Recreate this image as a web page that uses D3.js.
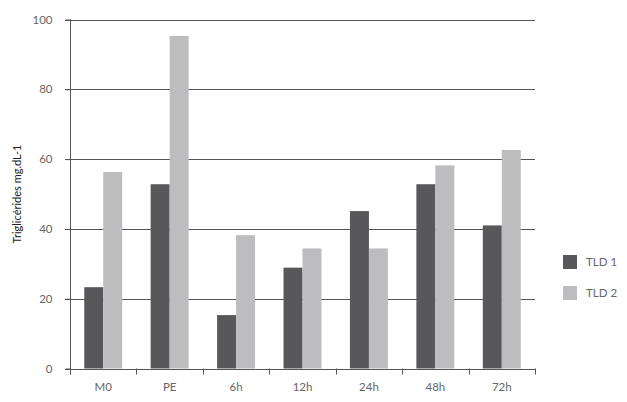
<!DOCTYPE html>
<html><head><meta charset="utf-8">
<script src="https://cdn.jsdelivr.net/npm/d3@7"></script>
<style>body{margin:0;background:#fff}svg{display:block;font-family:Lato,"Open Sans",sans-serif}</style>
</head><body>
<svg id="c" width="627" height="402"></svg>
<script>
const categories = ["M0","PE","6h","12h","24h","48h","72h"];
const seriesNames = ["TLD 1","TLD 2"];
const tld1 = [23.3, 52.8, 15.3, 28.9, 45.1, 52.8, 41.0];
const tld2 = [56.3, 95.3, 38.2, 34.4, 34.4, 58.2, 62.6];
const yTicks = [0,20,40,60,80,100];
const colors = ["#58585a","#bdbdbf"];

const FONT = "Lato, 'Open Sans', sans-serif";
const svg = d3.select("#c");
const L=70, R=535, T=19.5, B=368.5;
const y = d3.scaleLinear().domain([0,100]).range([B,T]);
const x0 = d3.scaleBand().domain(categories).range([L,R]).padding(0);
const x1 = d3.scaleBand().domain(seriesNames).range([0,x0.bandwidth()]).paddingInner(0).paddingOuter(0.75);
const data = categories.map((c,i)=>({c, v:[tld1[i],tld2[i]]}));

// gridlines
svg.append("g").selectAll("line").data(yTicks.filter(d=>d>0)).join("line")
  .attr("x1",L-5).attr("x2",R).attr("y1",d=>Math.round(y(d))+0.5).attr("y2",d=>Math.round(y(d))+0.5)
  .attr("stroke","#555").attr("stroke-width",1);

// bars
const g = svg.append("g").selectAll("g").data(data).join("g").attr("transform",d=>`translate(${x0(d.c)},0)`);
g.selectAll("rect").data(d=>d.v.map((v,j)=>({s:seriesNames[j],v,j}))).join("rect")
  .attr("x",d=>x1(d.s)).attr("width",x1.bandwidth())
  .attr("y",d=>y(d.v)).attr("height",d=>B-y(d.v)).attr("fill",d=>colors[d.j]);

// y axis
const ya = svg.append("g").attr("transform",`translate(${L+0.5},0)`)
  .call(d3.axisLeft(y).tickValues(yTicks).tickSize(5).tickPadding(13));
ya.select(".domain").attr("stroke","#555").attr("d",`M0,${T}V${B+6}`);
ya.selectAll(".tick line").attr("stroke","#555");
ya.selectAll(".tick text").attr("fill","#666").style("font-size","11.5px").style("font-family",FONT);

// x axis
const xa = svg.append("g").attr("transform",`translate(0,${Math.round(B)+0.5})`)
  .call(d3.axisBottom(x0).tickSize(0).tickPadding(13));
xa.select(".domain").attr("stroke","#555").attr("d",`M${L-5},0H${R}`);
xa.selectAll(".tick text").attr("fill","#666").style("font-size","11.5px").style("font-family",FONT);
svg.append("g").selectAll("line").data(categories.concat(["_end"])).join("line")
  .attr("x1",(d,i)=>Math.round(i<categories.length?x0(d):R)+0.5)
  .attr("x2",(d,i)=>Math.round(i<categories.length?x0(d):R)+0.5)
  .attr("y1",B).attr("y2",B+6).attr("stroke","#555");

// y title
svg.append("text").attr("transform",`translate(17,194) rotate(-90)`).attr("text-anchor","middle")
  .attr("dy","0.35em").attr("fill","#222").style("font-size","11px").style("font-family",FONT)
  .text("Triglicérides mg.dL-1");

// legend
const lg = svg.append("g").selectAll("g").data(seriesNames).join("g")
  .attr("transform",(d,i)=>`translate(563,${255+i*31})`);
lg.append("rect").attr("width",14).attr("height",14).attr("fill",(d,i)=>colors[i]);
lg.append("text").attr("x",23).attr("y",7).attr("dy","0.35em").attr("fill","#666")
  .style("font-size","11.5px").style("font-family",FONT).text(d=>d);
</script>
</body></html>
